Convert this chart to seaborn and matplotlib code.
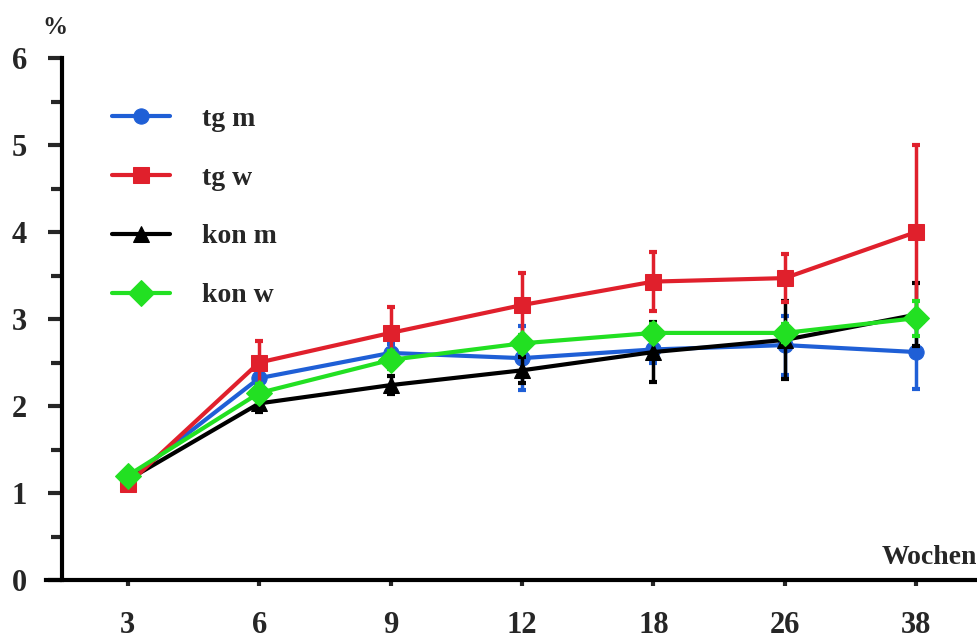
import matplotlib
matplotlib.use("Agg")
import matplotlib.pyplot as plt
import seaborn as sns
import numpy as np
import pandas as pd
from matplotlib.ticker import MultipleLocator

weeks = ["3", "6", "9", "12", "18", "26", "38"]
series_names = ["tg m", "tg w", "kon m", "kon w"]
tg_m = [1.15, 2.32, 2.61, 2.55, 2.65, 2.70, 2.62]
tg_w = [1.10, 2.50, 2.84, 3.16, 3.43, 3.47, 4.00]
kon_m = [1.15, 2.03, 2.24, 2.41, 2.62, 2.76, 3.05]
kon_w = [1.20, 2.15, 2.53, 2.72, 2.84, 2.84, 3.01]
err_tg_m = [0.05, 0.10, 0.10, 0.37, 0.15, 0.34, 0.42]
err_tg_w = [0.05, 0.25, 0.30, 0.37, 0.34, 0.28, 1.00]
err_kon_m = [0.05, 0.10, 0.10, 0.15, 0.34, 0.45, 0.36]
err_kon_w = [0.05, 0.10, 0.10, 0.10, 0.10, 0.10, 0.20]

values = {"tg m": tg_m, "tg w": tg_w, "kon m": kon_m, "kon w": kon_w}
errors = {"tg m": err_tg_m, "tg w": err_tg_w, "kon m": err_kon_m, "kon w": err_kon_w}
colors = {"tg m": "#1f5fd6", "tg w": "#e0202c", "kon m": "#000000", "kon w": "#22e022"}
markers = {"tg m": "o", "tg w": "s", "kon m": "^", "kon w": "D"}
msizes = {"tg m": 11, "tg w": 12, "kon m": 12, "kon w": 13}
draw_order = ["tg m", "kon m", "tg w", "kon w"]

sns.set_style("white")
plt.rcParams["font.family"] = ["Liberation Serif", "DejaVu Serif"]
plt.rcParams["font.weight"] = "bold"

fig = plt.figure(figsize=(9.78, 6.41), dpi=100)
ax = fig.add_axes([62 / 978, 1 - 580 / 641, 1 - 62 / 978, (580 - 58) / 641])

pos = np.arange(len(weeks))
for z, name in enumerate(draw_order):
    df = pd.DataFrame({"x": pos, "y": values[name]})
    ax.errorbar(df["x"], df["y"], yerr=errors[name], fmt="none",
                ecolor=colors[name], elinewidth=2.5, capsize=3, capthick=3,
                zorder=2 + z)
    sns.lineplot(data=df, x="x", y="y", ax=ax, color=colors[name],
                 marker=markers[name], markersize=msizes[name],
                 markeredgecolor=colors[name], linewidth=3, zorder=3 + z,
                 label=name)

leg_handles, leg_labels = ax.get_legend_handles_labels()
hmap = dict(zip(leg_labels, leg_handles))
leg = ax.legend([hmap[n] for n in series_names], series_names,
                loc="upper left", bbox_to_anchor=(0.027, 0.955), frameon=False,
                handlelength=2.1, handletextpad=1.15, labelspacing=1.2,
                prop={"family": "Liberation Serif", "weight": "bold", "size": 20})

ax.set_xlim(-0.5, 6.47)
ax.set_ylim(0, 6)
ax.set_xticks(pos)
ax.set_xticklabels(weeks)
ax.yaxis.set_major_locator(MultipleLocator(1))
ax.yaxis.set_minor_locator(MultipleLocator(0.5))
ax.set_xlabel("")
ax.set_ylabel("")

for s in ["top", "right"]:
    ax.spines[s].set_visible(False)
for s in ["left", "bottom"]:
    ax.spines[s].set_linewidth(3)
    ax.spines[s].set_color("black")
ax.spines["bottom"].set_bounds(-0.62, 6.47)

ax.tick_params(axis="y", which="major", direction="out", length=10, width=3,
               labelsize=22, pad=15, left=True)
ax.tick_params(axis="y", which="minor", direction="out", length=8, width=3,
               left=True)
ax.tick_params(axis="x", which="major", direction="out", length=4, width=3,
               labelsize=22, pad=18, bottom=True)
for lab in ax.get_xticklabels() + ax.get_yticklabels():
    lab.set_fontweight("bold")

fig.text(55 / 978, 1 - 27 / 641, "%", ha="center", va="center",
         fontsize=18, fontweight="bold")
fig.text(977 / 978, 1 - 558 / 641, "Wochen", ha="right", va="center",
         fontsize=20, fontweight="bold")

fig.savefig("out.png", dpi=100)
